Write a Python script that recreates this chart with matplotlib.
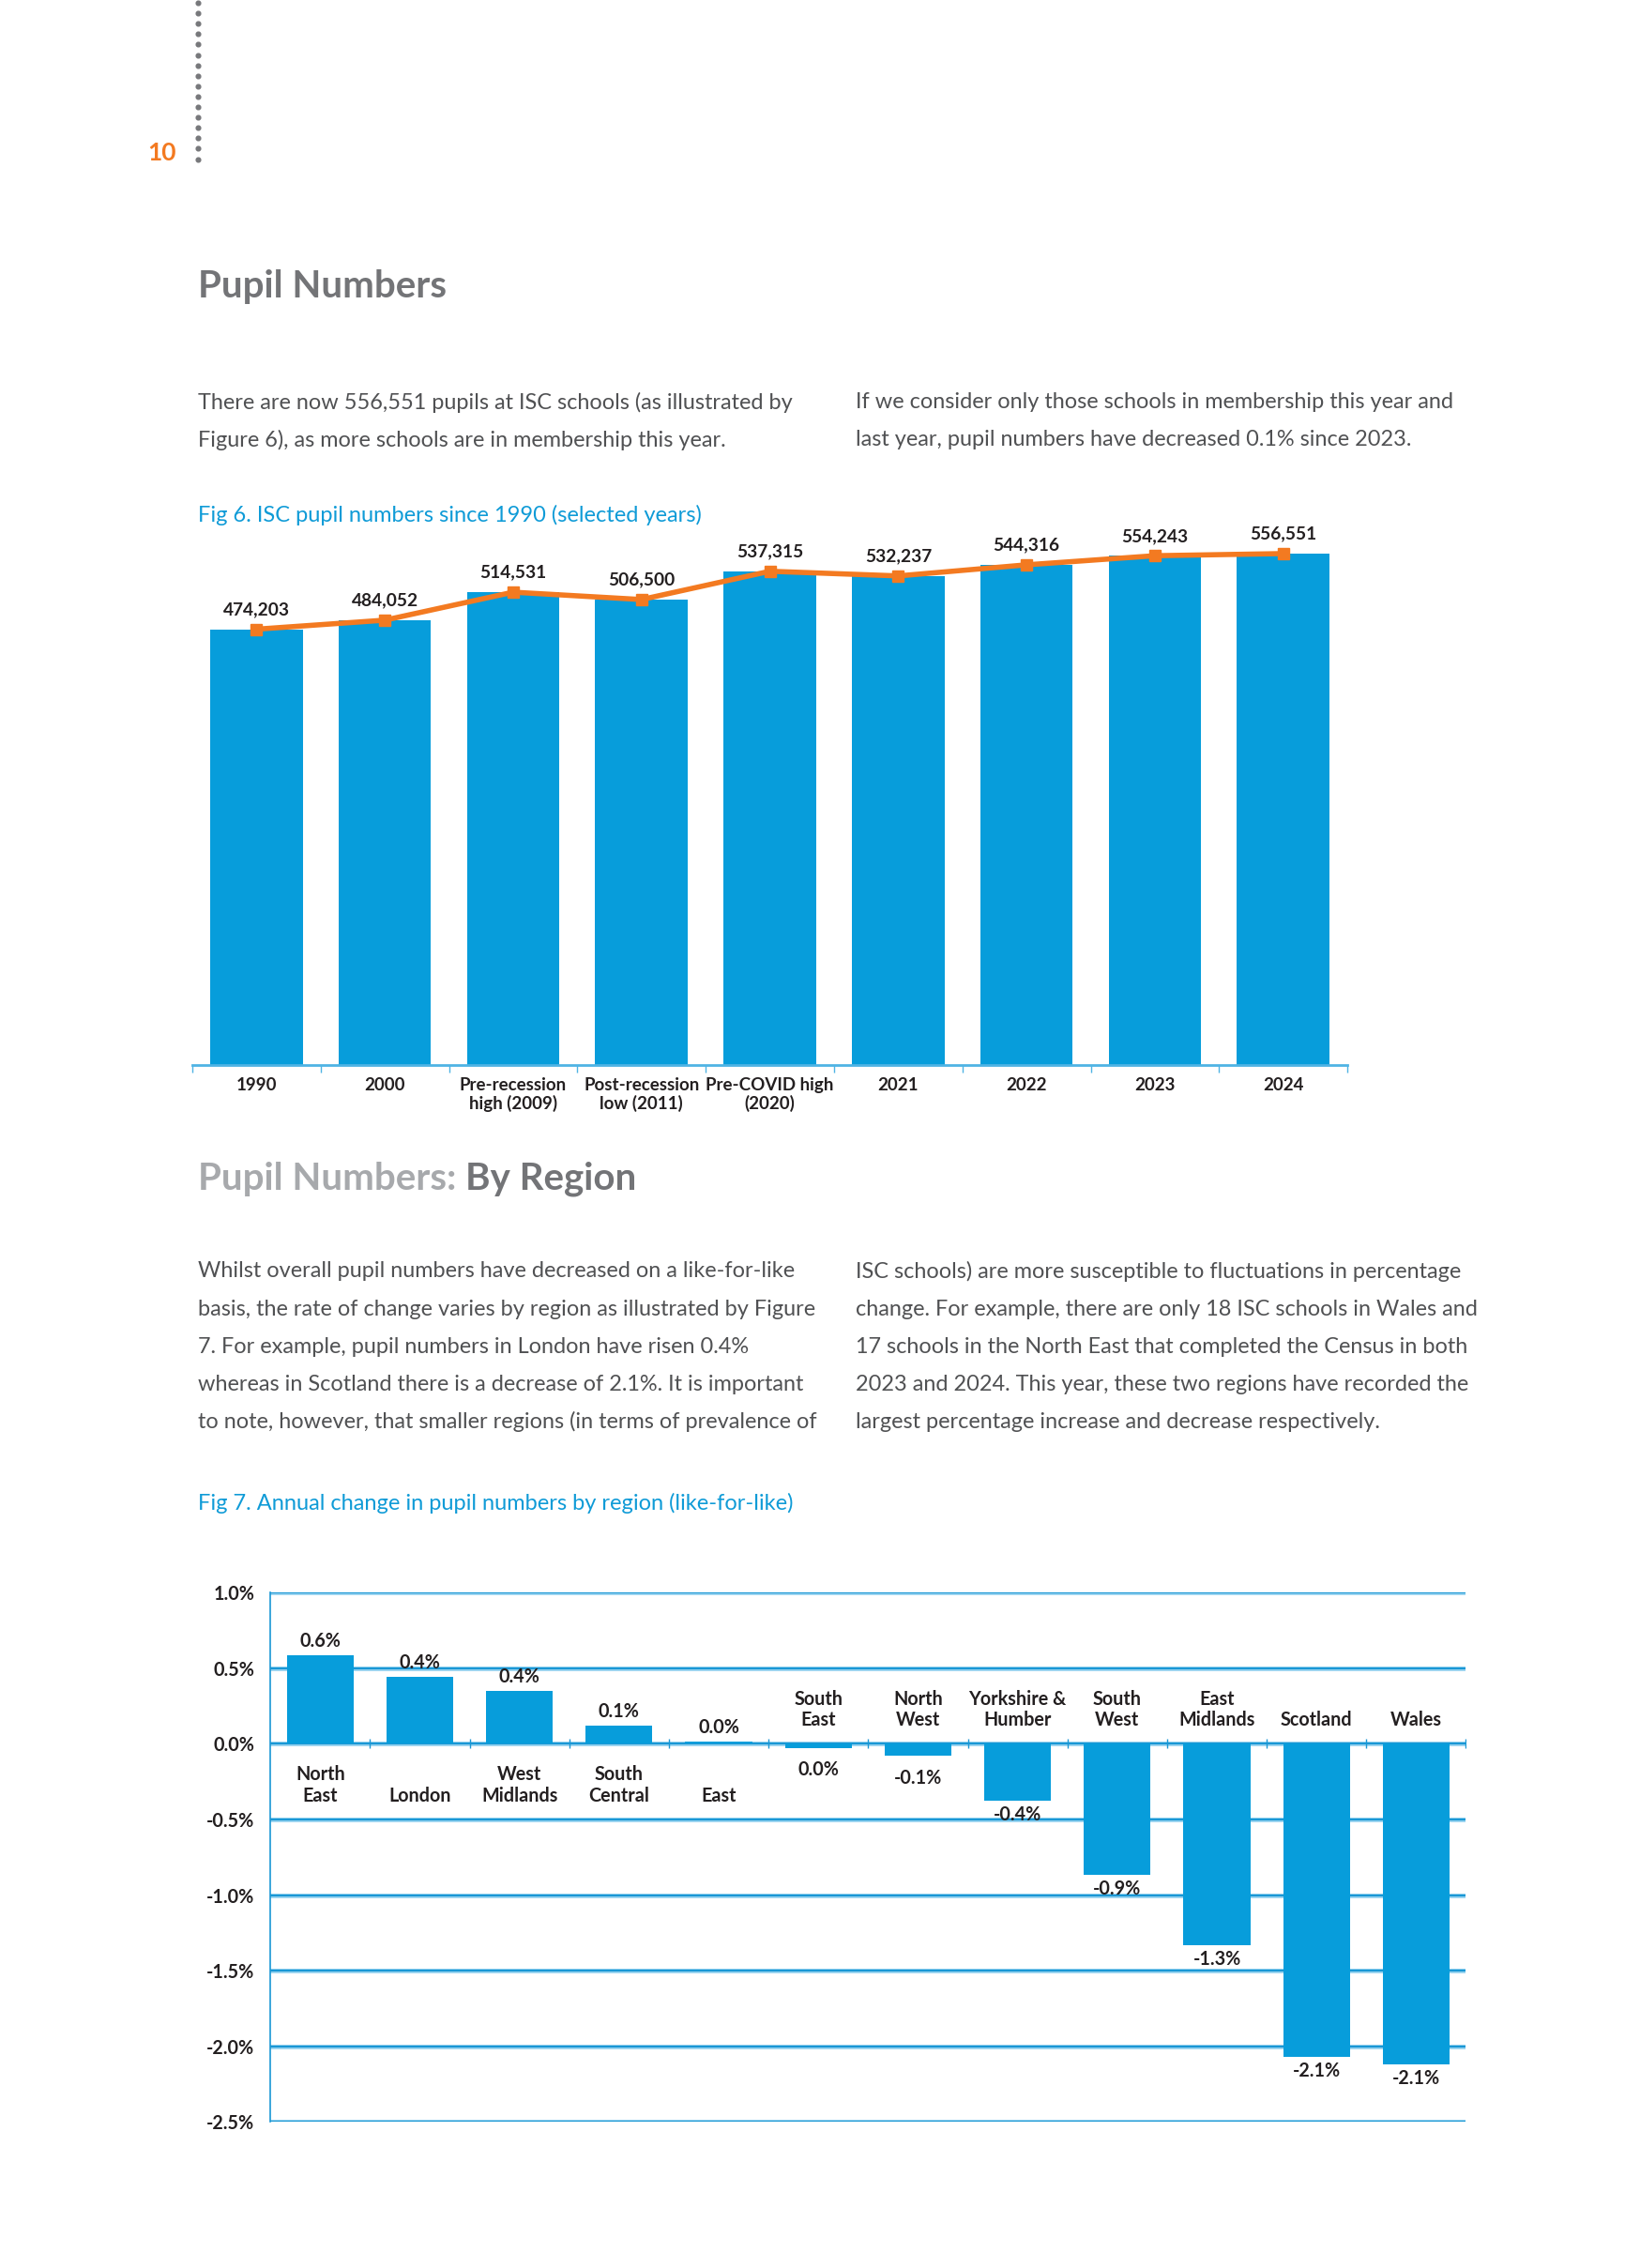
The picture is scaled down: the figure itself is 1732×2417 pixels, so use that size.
import matplotlib
matplotlib.use("Agg")
import matplotlib.pyplot as plt
import numpy as np

# ---------------- data ----------------
fig6_categories = ["1990", "2000", "Pre-recession\nhigh (2009)", "Post-recession\nlow (2011)",
                   "Pre-COVID high\n(2020)", "2021", "2022", "2023", "2024"]
fig6_values = [474203, 484052, 514531, 506500, 537315, 532237, 544316, 554243, 556551]

fig7_regions = ["North\nEast", "London", "West\nMidlands", "South\nCentral", "East", "South\nEast",
                "North\nWest", "Yorkshire &\nHumber", "South\nWest", "East\nMidlands", "Scotland", "Wales"]
fig7_values = [0.585, 0.44, 0.35, 0.12, 0.015, -0.027, -0.079, -0.375, -0.866, -1.33, -2.07, -2.12]
fig7_labels = ["0.6%", "0.4%", "0.4%", "0.1%", "0.0%", "0.0%", "-0.1%", "-0.4%", "-0.9%", "-1.3%", "-2.1%", "-2.1%"]
fig7_yticks = [1.0, 0.5, 0.0, -0.5, -1.0, -1.5, -2.0, -2.5]

# ---------------- styling ----------------
FONT = ["Lato", "DejaVu Sans"]
plt.rcParams["font.family"] = FONT
BLUE = "#079ddb"
ORANGE = "#f37a21"
TEXT = "#505153"
HEAD = "#737477"
DARK = "#231f20"
TITLEBLUE = "#0f9bd7"

W, H = 1124.0, 1568.0
def X(x):
    return x / W
def Y(y):
    return 1 - y / H

fig = plt.figure(figsize=(17.32, 24.17), dpi=100)
fig.patch.set_facecolor("white")

# page number + dotted line
fig.text(X(122), Y(106), "10", color=ORANGE, fontsize=19, fontweight="bold",
         ha="right", va="center")
dots_y = np.arange(2, 112, 7.2)
fig.add_artist(plt.Line2D([X(137)] * len(dots_y), [Y(v) for v in dots_y], transform=fig.transFigure,
                          linestyle="none", marker="o", markersize=3.4, color="#77787b"))

# headings
fig.text(X(137), Y(198), "Pupil Numbers", color=HEAD, fontsize=29, fontweight="bold",
         ha="left", va="center")
t1 = fig.text(X(137), Y(815), "Pupil Numbers: ", color="#a7a9ac", fontsize=29, fontweight="bold",
              ha="left", va="center")
fig.canvas.draw()
bb = t1.get_window_extent()
fig.text(bb.x1 / fig.bbox.width, Y(815), "By Region", color=HEAD, fontsize=29, fontweight="bold",
         ha="left", va="center")

# paragraphs
para1_left = ["There are now 556,551 pupils at ISC schools (as illustrated by",
              "Figure 6), as more schools are in membership this year."]
para1_right = ["If we consider only those schools in membership this year and",
               "last year, pupil numbers have decreased 0.1% since 2023."]
para2_left = ["Whilst overall pupil numbers have decreased on a like-for-like",
              "basis, the rate of change varies by region as illustrated by Figure",
              "7. For example, pupil numbers in London have risen 0.4%",
              "whereas in Scotland there is a decrease of 2.1%. It is important",
              "to note, however, that smaller regions (in terms of prevalence of"]
para2_right = ["ISC schools) are more susceptible to fluctuations in percentage",
               "change. For example, there are only 18 ISC schools in Wales and",
               "17 schools in the North East that completed the Census in both",
               "2023 and 2024. This year, these two regions have recorded the",
               "largest percentage increase and decrease respectively."]

def para(lines, x, y0):
    for k, s in enumerate(lines):
        fig.text(X(x), Y(y0 + 26 * k), s, color=TEXT, fontsize=16.9, ha="left", va="center")

para(para1_left, 137, 278)
para(para1_right, 592, 278)
para(para2_left, 137, 879)
para(para2_right, 592, 879)

fig.text(X(137), Y(356), "Fig 6. ISC pupil numbers since 1990 (selected years)", color=TITLEBLUE,
         fontsize=17, ha="left", va="center")
fig.text(X(137), Y(1039), "Fig 7. Annual change in pupil numbers by region (like-for-like)", color=TITLEBLUE,
         fontsize=17, ha="left", va="center")

# ---------------- Figure 6 ----------------
ymax1 = 620000
px_per_unit = 474203 / 301.0  # value per display px
top_disp = 736 - ymax1 / px_per_unit
ax1 = fig.add_axes([X(133), Y(736), (932 - 133) / W, (736 - top_disp) / H])
x1 = np.arange(len(fig6_values))
ax1.bar(x1, fig6_values, width=0.72, color=BLUE, zorder=2)
ax1.plot(x1, fig6_values, color=ORANGE, lw=4, marker="s", markersize=8, zorder=3)
for xi, v in zip(x1, fig6_values):
    ax1.annotate(f"{v:,}", (xi, v), xytext=(0, 15), textcoords="offset points",
                 ha="center", va="center", fontsize=13.8, fontweight="bold", color=DARK)
ax1.set_xlim(-0.5, len(fig6_values) - 0.5)
ax1.set_ylim(0, ymax1)
ax1.set_yticks([])
for s in ["top", "right", "left"]:
    ax1.spines[s].set_visible(False)
ax1.spines["bottom"].set_color("#4fb3e4")
ax1.spines["bottom"].set_linewidth(2)
ax1.set_xticks(x1)
ax1.set_xticklabels(fig6_categories, fontsize=13.5, fontweight="bold", color=DARK, linespacing=1.1, va="top")
ax1.tick_params(axis="x", which="major", length=0, pad=10)
ax1.set_xticks(np.arange(-0.5, len(fig6_values)), minor=True)
ax1.tick_params(axis="x", which="minor", length=6, width=1, color="#4fb3e4", direction="out")

# ---------------- Figure 7 ----------------
ax2 = fig.add_axes([X(187), Y(1467), (1014 - 187) / W, (1467 - 1101) / H])
x2 = np.arange(len(fig7_values))
ax2.set_xlim(-0.5, len(fig7_values) - 0.5)
ax2.set_ylim(-2.5, 1.0)
for yv in fig7_yticks:
    ax2.axhline(yv, color="#9fd6f1", lw=3.6, zorder=1)
    ax2.axhline(yv, color="#1a97d5", lw=1.6, zorder=1)
ax2.bar(x2, fig7_values, width=0.67, color=BLUE, zorder=3)
FS2 = 14.2
for xi, v, lab, reg in zip(x2, fig7_values, fig7_labels, fig7_regions):
    if v >= 0:
        ax2.annotate(lab, (xi, v), xytext=(0, 11), textcoords="offset points",
                     ha="center", va="center", fontsize=FS2, fontweight="bold", color=DARK)
        ax2.annotate(reg, (xi, 0), xytext=(0, -47), textcoords="offset points",
                     ha="center", va="bottom", fontsize=FS2, fontweight="bold", color=DARK,
                     linespacing=1.15)
    else:
        off = -11 if v < -0.2 else -17
        ax2.annotate(lab, (xi, v), xytext=(0, off), textcoords="offset points",
                     ha="center", va="center", fontsize=FS2, fontweight="bold", color=DARK)
        ax2.annotate(reg, (xi, 0), xytext=(0, 11), textcoords="offset points",
                     ha="center", va="bottom", fontsize=FS2, fontweight="bold", color=DARK,
                     linespacing=1.15)
# boundary ticks on zero line
ax2.plot(np.arange(0.5, len(fig7_values)), np.zeros(len(fig7_values)), linestyle="none",
         marker="|", markersize=7, color="#1a97d5", zorder=2)
ax2.set_yticks(fig7_yticks)
ax2.set_yticklabels([f"{v:.1f}%" for v in fig7_yticks], fontsize=FS2, fontweight="bold", color=DARK)
ax2.tick_params(axis="y", length=0, pad=12)
ax2.set_xticks([])
for s in ["top", "right", "bottom"]:
    ax2.spines[s].set_visible(False)
ax2.spines["left"].set_color("#1a97d5")
ax2.spines["left"].set_linewidth(1.2)

fig.savefig("out.png", dpi=100, facecolor="white")
